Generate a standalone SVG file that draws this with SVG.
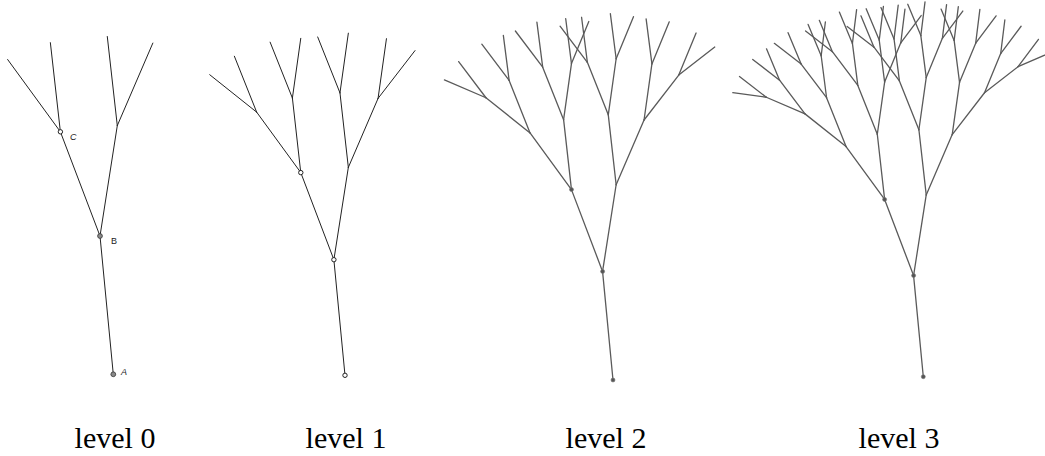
<svg xmlns="http://www.w3.org/2000/svg" xmlns:xlink="http://www.w3.org/1999/xlink" width="1045" height="456" viewBox="0 0 1045 456">
<style>
.seg{vector-effect:non-scaling-stroke;stroke-linecap:round}
.dark{stroke:#222;stroke-width:1}
.gray{stroke:#5a5a5a;stroke-width:1.3}
.pt-fill{fill:#8a8a8a;stroke:#333;stroke-width:0.8}
.pt-open{fill:#fff;stroke:#222;stroke-width:1}
.pt-dot{fill:#555;stroke:#777;stroke-width:0.6}
.lbl{font-family:"Liberation Sans",Arial,sans-serif;font-size:9px;fill:#222}
.cap{font-family:"Liberation Serif","Times New Roman",serif;font-size:30px;fill:#000;text-anchor:middle}
</style>
<defs>
<g id="t0"><line class="seg" x1="0" y1="0" x2="-13.3" y2="-138.3"/></g>
<g id="t1"><use href="#t0"/><use href="#t0" transform="matrix(0.774,-0.212,0.212,0.774,-13.3,-138.3)"/><use href="#t0" transform="matrix(0.779,0.2,-0.2,0.779,-13.3,-138.3)"/></g>
<g id="t2"><use href="#t0"/><use href="#t1" transform="matrix(0.774,-0.212,0.212,0.774,-13.3,-138.3)"/><use href="#t1" transform="matrix(0.779,0.2,-0.2,0.779,-13.3,-138.3)"/></g>
<g id="t3"><use href="#t0"/><use href="#t2" transform="matrix(0.774,-0.212,0.212,0.774,-13.3,-138.3)"/><use href="#t2" transform="matrix(0.779,0.2,-0.2,0.779,-13.3,-138.3)"/></g>
<g id="t4"><use href="#t0"/><use href="#t3" transform="matrix(0.774,-0.212,0.212,0.774,-13.3,-138.3)"/><use href="#t3" transform="matrix(0.779,0.2,-0.2,0.779,-13.3,-138.3)"/></g>
<g id="t5"><use href="#t0"/><use href="#t4" transform="matrix(0.774,-0.212,0.212,0.774,-13.3,-138.3)"/><use href="#t4" transform="matrix(0.779,0.2,-0.2,0.779,-13.3,-138.3)"/></g>
</defs>

<g id="connectors">
<use href="#t2" class="dark" transform="translate(113.3,374.3)"/>
<use href="#t3" class="dark" transform="translate(345,375.3) scale(0.836)"/>
<use href="#t4" class="gray" transform="translate(613,380) scale(0.785)"/>
<use href="#t5" class="gray" transform="translate(923.3,376.7) scale(0.731)"/>
</g>

<g id="level0">
<circle class="pt-fill" cx="113.3" cy="374.3" r="2.4"/>
<circle class="pt-fill" cx="100" cy="236" r="2.4"/>
<circle class="pt-open" cx="60.4" cy="131.8" r="2.2"/>
<text class="lbl" x="121" y="375" font-style="italic">A</text>
<text class="lbl" x="111" y="244">B</text>
<text class="lbl" x="70" y="140" font-style="italic">C</text>
<text class="cap" x="115" y="448">level 0</text>
</g>
<g id="level1">
<circle class="pt-open" cx="345" cy="375.3" r="2.2"/>
<circle class="pt-open" cx="333.9" cy="259.7" r="2.2"/>
<circle class="pt-open" cx="300.8" cy="172.6" r="2.2"/>
<text class="cap" x="346" y="448">level 1</text>
</g>
<g id="level2">
<circle class="pt-dot" cx="613" cy="380" r="2"/>
<circle class="pt-dot" cx="602.6" cy="271.4" r="2"/>
<circle class="pt-dot" cx="571.5" cy="189.6" r="2"/>
<text class="cap" x="606" y="448">level 2</text>
</g>
<g id="level3">
<circle class="pt-dot" cx="923.3" cy="376.7" r="2"/>
<circle class="pt-dot" cx="913.6" cy="275.6" r="2"/>
<circle class="pt-dot" cx="884.6" cy="199.4" r="2"/>
<text class="cap" x="899" y="448">level 3</text>
</g>
</svg>
